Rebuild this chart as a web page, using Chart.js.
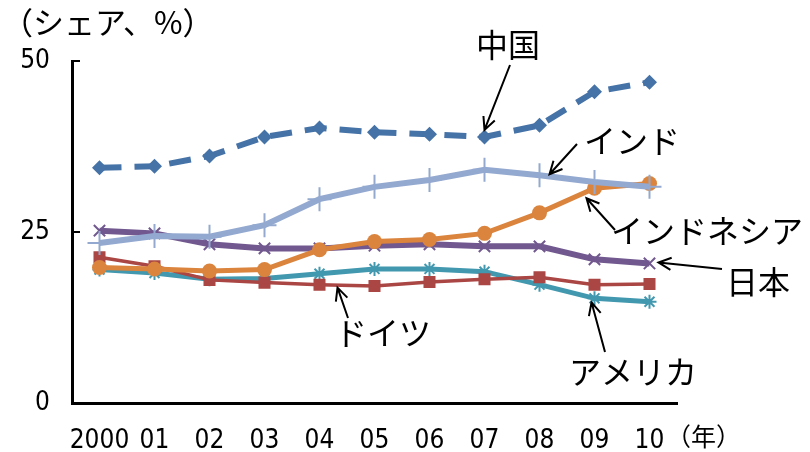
<!DOCTYPE html>
<html>
<head>
<meta charset="utf-8">
<script src="https://cdn.jsdelivr.net/npm/chart.js@4"></script>
<style>
  html, body { margin: 0; padding: 0; background: #fff; }
  #wrap { width: 810px; height: 452px; }
</style>
</head>
<body>
<div id="wrap"><canvas id="chart" width="810" height="452"></canvas></div>
<script>
// data (share, %)
var years = ['2000', '01', '02', '03', '04', '05', '06', '07', '08', '09', '10'];
var yTicks = [0, 25, 50];
var china     = [34.4, 34.6, 36.1, 38.9, 40.2, 39.6, 39.3, 38.9, 40.6, 45.5, 46.9];
var india     = [23.4, 24.4, 24.3, 26.0, 29.8, 31.6, 32.6, 34.1, 33.3, 32.3, 31.6];
var indonesia = [19.8, 19.6, 19.3, 19.5, 22.4, 23.6, 23.9, 24.8, 27.8, 31.4, 32.1];
var japan     = [25.2, 24.8, 23.2, 22.6, 22.6, 23.0, 23.2, 22.9, 22.9, 21.0, 20.4];
var germany   = [21.3, 20.0, 18.0, 17.6, 17.3, 17.1, 17.7, 18.1, 18.4, 17.3, 17.4];
var usa       = [19.5, 19.0, 18.1, 18.2, 18.9, 19.6, 19.6, 19.2, 17.3, 15.3, 14.8];

var jpFont = "'Noto Sans CJK JP', sans-serif";
var numFont = "'DejaVu Sans', sans-serif";

// callouts: arrow tip sits on a data point (dataset index, point index) plus a small nudge
var notes = [
    { text: '中国',        ds: 0, i: 7,  dx: 0,  dy: -7, tail: [510, 65],  tx: 476, ty: 45 },
    { text: 'インド',      ds: 1, i: 8,  dx: 10, dy: -1, tail: [577, 144], tx: 584, ty: 141 },
    { text: 'インドネシア', ds: 2, i: 9,  dx: -8, dy: 10, tail: [615, 230], tx: 611, ty: 231 },
    { text: '日本',        ds: 3, i: 10, dx: 9,  dy: -1, tail: [722, 269], tx: 726, ty: 282 },
    { text: 'ドイツ',      ds: 4, i: 4,  dx: 18, dy: 3,  tail: [348, 318], tx: 335, ty: 333 },
    { text: 'アメリカ',    ds: 5, i: 9,  dx: -3, dy: 4,  tail: [605, 352], tx: 569, ty: 372 }
];

function drawArrow(ctx, x1, y1, x2, y2) {
    var ang = Math.atan2(y2 - y1, x2 - x1);
    var head = 14;
    ctx.beginPath();
    ctx.moveTo(x1, y1);
    ctx.lineTo(x2, y2);
    ctx.moveTo(x2 - head * Math.cos(ang - 0.45), y2 - head * Math.sin(ang - 0.45));
    ctx.lineTo(x2, y2);
    ctx.lineTo(x2 - head * Math.cos(ang + 0.45), y2 - head * Math.sin(ang + 0.45));
    ctx.stroke();
}

var extras = {
    id: 'extras',
    afterDraw: function(chart) {
        var ctx = chart.ctx;
        var xs = chart.scales.x, ys = chart.scales.y;
        ctx.save();
        // inward tick marks on the value axis
        ctx.strokeStyle = '#000';
        ctx.lineWidth = 2;
        yTicks.forEach(function(v) {
            if (v === 0) return;
            var y = ys.getPixelForValue(v);
            ctx.beginPath();
            ctx.moveTo(xs.left, y);
            ctx.lineTo(xs.left + 8, y);
            ctx.stroke();
        });
        // axis titles
        ctx.fillStyle = '#000';
        ctx.textBaseline = 'middle';
        ctx.textAlign = 'left';
        ctx.font = '31px ' + jpFont;
        ctx.fillText('（シェア、%）', 2, 22);
        ctx.font = '25px ' + jpFont;
        ctx.fillText('（年）', 666, 436);
        // callouts
        ctx.font = '32px ' + jpFont;
        ctx.lineWidth = 2;
        notes.forEach(function(n) {
            var val = chart.data.datasets[n.ds].data[n.i];
            var px = xs.getPixelForValue(n.i) + n.dx;
            var py = ys.getPixelForValue(val) + n.dy;
            drawArrow(ctx, n.tail[0], n.tail[1], px, py);
            ctx.fillText(n.text, n.tx, n.ty);
        });
        ctx.restore();
    }
};

var ctx = document.querySelector('#chart').getContext('2d');

var chart = new Chart(ctx, {
    type: 'line',
    data: {
        labels: years,
        datasets: [
            {
                label: '中国', data: china, order: 6,
                borderColor: '#4572A7', backgroundColor: '#4572A7',
                borderWidth: 6, borderDash: [22, 13],
                pointStyle: 'rectRot', pointRadius: 7.5, pointBorderWidth: 0
            },
            {
                label: 'インド', data: india, order: 1,
                borderColor: '#93A9D0', backgroundColor: '#93A9D0',
                borderWidth: 6,
                pointStyle: 'cross', pointRadius: 12, pointBorderWidth: 2
            },
            {
                label: 'インドネシア', data: indonesia, order: 2,
                borderColor: '#DB843D', backgroundColor: '#DB843D',
                borderWidth: 5,
                pointStyle: 'circle', pointRadius: 7.5, pointBorderWidth: 0
            },
            {
                label: '日本', data: japan, order: 3,
                borderColor: '#71588F', backgroundColor: '#71588F',
                borderWidth: 6,
                pointStyle: 'crossRot', pointRadius: 8, pointBorderWidth: 2
            },
            {
                label: 'ドイツ', data: germany, order: 4,
                borderColor: '#AA4643', backgroundColor: '#AA4643',
                borderWidth: 3.5,
                pointStyle: 'rect', pointRadius: 8.5, pointBorderWidth: 0
            },
            {
                label: 'アメリカ', data: usa, order: 5,
                borderColor: '#4198AF', backgroundColor: '#4198AF',
                borderWidth: 5,
                pointStyle: 'star', pointRadius: 7, pointBorderWidth: 2
            }
        ]
    },
    options: {
        responsive: false,
        animation: false,
        events: [],
        layout: { padding: { top: 61, right: 133, left: 0, bottom: 0 } },
        elements: { line: { tension: 0, fill: false } },
        plugins: {
            legend: { display: false },
            tooltip: { enabled: false }
        },
        scales: {
            x: {
                offset: true,
                grid: { display: false },
                border: { display: true, color: '#000', width: 3 },
                ticks: {
                    color: '#000', padding: 15, maxRotation: 0, autoSkip: false,
                    font: { family: numFont, size: 26, weight: 'condensed' }
                },
                afterFit: function(scale) { scale.height = 49; }
            },
            y: {
                min: 0, max: 50,
                grid: { display: false },
                border: { display: true, color: '#000', width: 3 },
                afterBuildTicks: function(scale) {
                    scale.ticks = yTicks.map(function(v) { return { value: v }; });
                },
                ticks: {
                    color: '#000', padding: 14,
                    font: { family: numFont, size: 26, weight: 'condensed' }
                },
                afterFit: function(scale) { scale.width = 72; }
            }
        }
    },
    plugins: [extras]
});
</script>
</body>
</html>
